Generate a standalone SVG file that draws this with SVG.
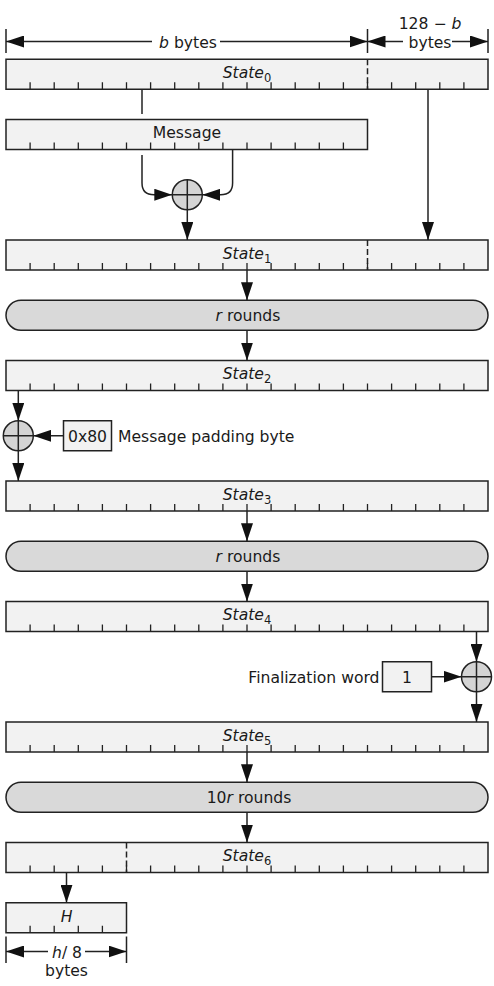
<svg xmlns="http://www.w3.org/2000/svg" xmlns:xlink="http://www.w3.org/1999/xlink" width="494" height="986" viewBox="0 0 494 986">
<style>
text{font-family:"DejaVu Sans","Liberation Sans",sans-serif;font-size:15.6px;fill:#1a1a1a}
.c{text-anchor:middle}
.i{font-style:italic}
.box{fill:#f2f2f2;stroke:#222;stroke-width:1.5}
.rnd{fill:#d9d9d9;stroke:#222;stroke-width:1.5}
.xor{fill:#d4d4d4;stroke:#222;stroke-width:1.5}
.tk{fill:none;stroke:#222;stroke-width:1.3}
.ln{fill:none;stroke:#222;stroke-width:1.5}
.dash{fill:none;stroke:#222;stroke-width:1.5;stroke-dasharray:6,3}
.arr{fill:none;stroke:#222;stroke-width:1.5;marker-end:url(#ah)}
.sub{font-size:11.5px}
</style>
<defs>
<marker id="ah" markerUnits="userSpaceOnUse" markerWidth="18" markerHeight="12" refX="18" refY="6" orient="auto" viewBox="0 0 18 12">
<path d="M0,0 L18,6 L0,12 z" fill="#111"/>
</marker>
<path id="ticks" class="tk" d="M30.1,23v7M54.2,23v7M78.3,23v7M102.4,23v7M126.5,23v7M150.6,23v7M174.7,23v7M198.8,23v7M222.9,23v7M247,23v7M271.1,23v7M295.2,23v7M319.3,23v7M343.4,23v7M367.5,23v7M391.6,23v7M415.7,23v7M439.8,23v7M463.9,23v7"/>
<path id="ticksM" class="tk" d="M30.1,23v7M54.2,23v7M78.3,23v7M102.4,23v7M126.5,23v7M150.6,23v7M174.7,23v7M198.8,23v7M222.9,23v7M247,23v7M271.1,23v7M295.2,23v7M319.3,23v7M343.4,23v7"/>
<path id="ticksH" class="tk" d="M30.1,23v7M54.2,23v7M78.3,23v7M102.4,23v7"/>
<g id="xorsym">
<circle class="xor" cx="0" cy="0" r="15"/>
<path class="ln" d="M-15,0H15M0,-15V15"/>
</g>
</defs>

<g id="dim-top">
<path class="ln" d="M6,29V53M367.5,29V53M488,29V53"/>
<path class="arr" d="M152,41.5H6"/>
<path class="arr" d="M220,41.5H367.5"/>
<path class="arr" d="M403,41.5H367.5"/>
<path class="arr" d="M452,41.5H488"/>
<text class="c" x="188" y="47.5"><tspan class="i">b</tspan> bytes</text>
<text class="c" x="430" y="28.5">128 − <tspan class="i">b</tspan></text>
<text class="c" x="430" y="47.5">bytes</text>
</g>

<g id="state0">
<rect class="box" x="6" y="59.25" width="482" height="30"/>
<use xlink:href="#ticks" y="59.25"/>
<path class="dash" d="M367.5,59.25V89.25"/>
<text class="c" x="247" y="78"><tspan class="i">State</tspan><tspan class="sub" dy="4">0</tspan></text>
</g>

<g id="message">
<rect class="box" x="6" y="119.5" width="361.5" height="30"/>
<use xlink:href="#ticksM" y="119.5"/>
<text class="c" x="187" y="138">Message</text>
</g>

<g id="xor1"><use xlink:href="#xorsym" x="187.3" y="194.75"/></g>

<g id="state1">
<rect class="box" x="6" y="240" width="482" height="30"/>
<use xlink:href="#ticks" y="240"/>
<path class="dash" d="M367.5,240V270"/>
<text class="c" x="247" y="258.75"><tspan class="i">State</tspan><tspan class="sub" dy="4">1</tspan></text>
</g>

<g id="rounds1">
<rect class="rnd" x="6" y="300.25" width="482" height="30" rx="15"/>
<text class="c" x="248" y="321"><tspan class="i">r</tspan> rounds</text>
</g>

<g id="state2">
<rect class="box" x="6" y="360.5" width="482" height="30"/>
<use xlink:href="#ticks" y="360.5"/>
<text class="c" x="247" y="379.25"><tspan class="i">State</tspan><tspan class="sub" dy="4">2</tspan></text>
</g>

<g id="xor2"><use xlink:href="#xorsym" x="18.3" y="435.75"/></g>

<g id="pad">
<rect class="box" x="63.5" y="420.75" width="48" height="30"/>
<text class="c" x="87.5" y="441.5">0x80</text>
<text x="118" y="441.5">Message padding byte</text>
</g>

<g id="state3">
<rect class="box" x="6" y="481" width="482" height="30"/>
<use xlink:href="#ticks" y="481"/>
<text class="c" x="247" y="499.75"><tspan class="i">State</tspan><tspan class="sub" dy="4">3</tspan></text>
</g>

<g id="rounds2">
<rect class="rnd" x="6" y="541.25" width="482" height="30" rx="15"/>
<text class="c" x="248" y="562"><tspan class="i">r</tspan> rounds</text>
</g>

<g id="state4">
<rect class="box" x="6" y="601.5" width="482" height="30"/>
<use xlink:href="#ticks" y="601.5"/>
<text class="c" x="247" y="620.25"><tspan class="i">State</tspan><tspan class="sub" dy="4">4</tspan></text>
</g>

<g id="xor3"><use xlink:href="#xorsym" x="476.5" y="676.75"/></g>

<g id="final">
<text x="379.5" y="682.5" style="text-anchor:end">Finalization word</text>
<rect class="box" x="382.5" y="661.75" width="49" height="30"/>
<text class="c" x="407" y="682.5">1</text>
</g>

<g id="state5">
<rect class="box" x="6" y="722" width="482" height="30"/>
<use xlink:href="#ticks" y="722"/>
<text class="c" x="247" y="740.75"><tspan class="i">State</tspan><tspan class="sub" dy="4">5</tspan></text>
</g>

<g id="rounds3">
<rect class="rnd" x="6" y="782.25" width="482" height="30" rx="15"/>
<text class="c" x="249" y="803">10<tspan class="i">r</tspan> rounds</text>
</g>

<g id="state6">
<rect class="box" x="6" y="842.5" width="482" height="30"/>
<use xlink:href="#ticks" y="842.5"/>
<path class="dash" d="M126.5,842.5V872.5"/>
<text class="c" x="247" y="861.25"><tspan class="i">State</tspan><tspan class="sub" dy="4">6</tspan></text>
</g>

<g id="hash">
<rect class="box" x="6" y="902.75" width="120.5" height="30"/>
<use xlink:href="#ticksH" y="902.75"/>
<text class="c i" x="66.5" y="921.5">H</text>
</g>

<g id="dim-bottom">
<path class="ln" d="M6,936.5V963M126.5,936.5V963"/>
<path class="arr" d="M48,951.5H6"/>
<path class="arr" d="M85,951.5H126.5"/>
<text class="c" x="67" y="958"><tspan class="i">h</tspan>/ 8</text>
<text class="c" x="66.5" y="975.5">bytes</text>
</g>

<g id="connectors">
<path class="ln" d="M142,89.25V114"/>
<path class="arr" d="M142,155V183Q142,194.75 154,194.75H172.3"/>
<path class="arr" d="M232.6,149.5V183Q232.6,194.75 220.6,194.75H202.3"/>
<path class="arr" d="M187.3,209.75V240"/>
<path class="arr" d="M428,89.25V240"/>
<path class="arr" d="M247,270V300.25"/>
<path class="arr" d="M247,330.25V360.5"/>
<path class="arr" d="M18.3,390.5V420.75"/>
<path class="arr" d="M63.5,435.75H33.3"/>
<path class="arr" d="M18.3,450.75V481"/>
<path class="arr" d="M247,511V541.25"/>
<path class="arr" d="M247,571.25V601.5"/>
<path class="arr" d="M476.5,631.5V661.75"/>
<path class="arr" d="M431.5,676.75H461.5"/>
<path class="arr" d="M476.5,691.75V722"/>
<path class="arr" d="M247,752V782.25"/>
<path class="arr" d="M247,812.25V842.5"/>
<path class="arr" d="M66.5,872.5V902.75"/>
</g>
</svg>
